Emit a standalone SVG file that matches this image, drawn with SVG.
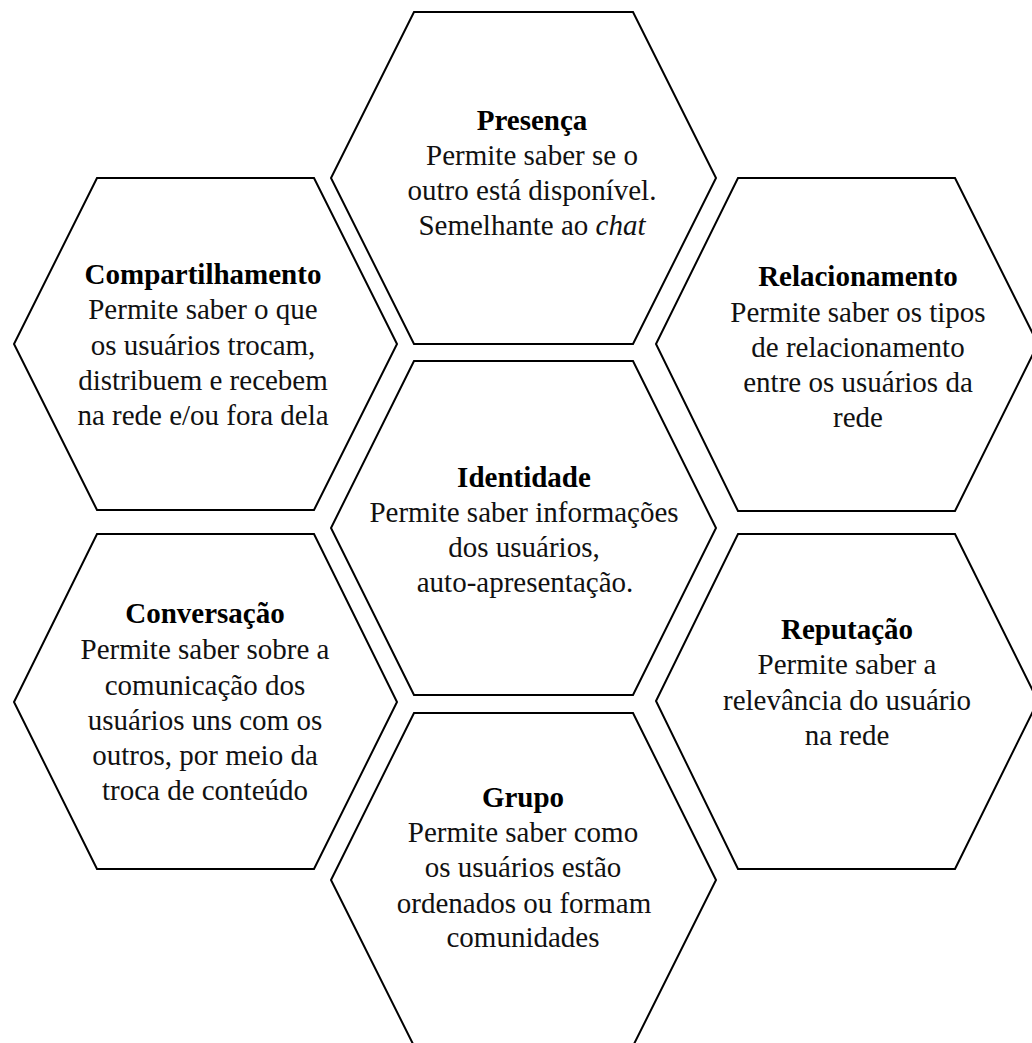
<svg xmlns="http://www.w3.org/2000/svg" width="1032" height="1043" viewBox="0 0 1032 1043">
<style>
.hex{fill:#fff;stroke:#000;stroke-width:2;stroke-linejoin:miter}
text{font-family:"Liberation Serif","Times New Roman",serif;font-size:29px;fill:#111;text-anchor:middle}
.t{font-weight:bold;fill:#000}
.i{font-style:italic}
</style>
<rect width="1032" height="1043" fill="#fff"/>
<g id="presenca">
<polygon class="hex" points="414,12 633,12 716,178 633,344 414,344 331,178"/>
<text x="532" y="130" class="t">Presença</text>
<text x="532" y="165">Permite saber se o</text>
<text x="532" y="200">outro está disponível.</text>
<text x="532" y="235">Semelhante ao <tspan class="i">chat</tspan></text>
</g>
<g id="compartilhamento">
<polygon class="hex" points="97,178 314,178 397,344 314,510 97,510 14,344"/>
<text x="203" y="284" class="t">Compartilhamento</text>
<text x="203" y="319">Permite saber o que</text>
<text x="203" y="355">os usuários trocam,</text>
<text x="203" y="390">distribuem e recebem</text>
<text x="203" y="425">na rede e/ou fora dela</text>
</g>
<g id="relacionamento">
<polygon class="hex" points="738,178 955,178 1038,344 955,511 738,511 656,344"/>
<text x="858" y="286" class="t">Relacionamento</text>
<text x="858" y="322">Permite saber os tipos</text>
<text x="858" y="357">de relacionamento</text>
<text x="858" y="392">entre os usuários da</text>
<text x="858" y="427">rede</text>
</g>
<g id="identidade">
<polygon class="hex" points="414,361 633,361 716,528 633,695 414,695 331,528"/>
<text x="524" y="487" class="t">Identidade</text>
<text x="524" y="522">Permite saber informações</text>
<text x="524" y="557">dos usuários,</text>
<text x="525" y="592">auto-apresentação.</text>
</g>
<g id="conversacao">
<polygon class="hex" points="97,534 314,534 397,702 314,869 97,869 14,702"/>
<text x="205" y="623" class="t">Conversação</text>
<text x="205" y="659">Permite saber sobre a</text>
<text x="205" y="695">comunicação dos</text>
<text x="205" y="730">usuários uns com os</text>
<text x="205" y="765">outros, por meio da</text>
<text x="205" y="800">troca de conteúdo</text>
</g>
<g id="reputacao">
<polygon class="hex" points="738,534 955,534 1038,701 955,869 738,869 656,701"/>
<text x="847" y="639" class="t">Reputação</text>
<text x="847" y="674">Permite saber a</text>
<text x="847" y="710">relevância do usuário</text>
<text x="847" y="745">na rede</text>
</g>
<g id="grupo">
<polygon class="hex" points="414,713 633,713 716,880 633,1046 414,1046 331,880"/>
<text x="523" y="807" class="t">Grupo</text>
<text x="523" y="842">Permite saber como</text>
<text x="523" y="877">os usuários estão</text>
<text x="524" y="913">ordenados ou formam</text>
<text x="523" y="947">comunidades</text>
</g>
</svg>
